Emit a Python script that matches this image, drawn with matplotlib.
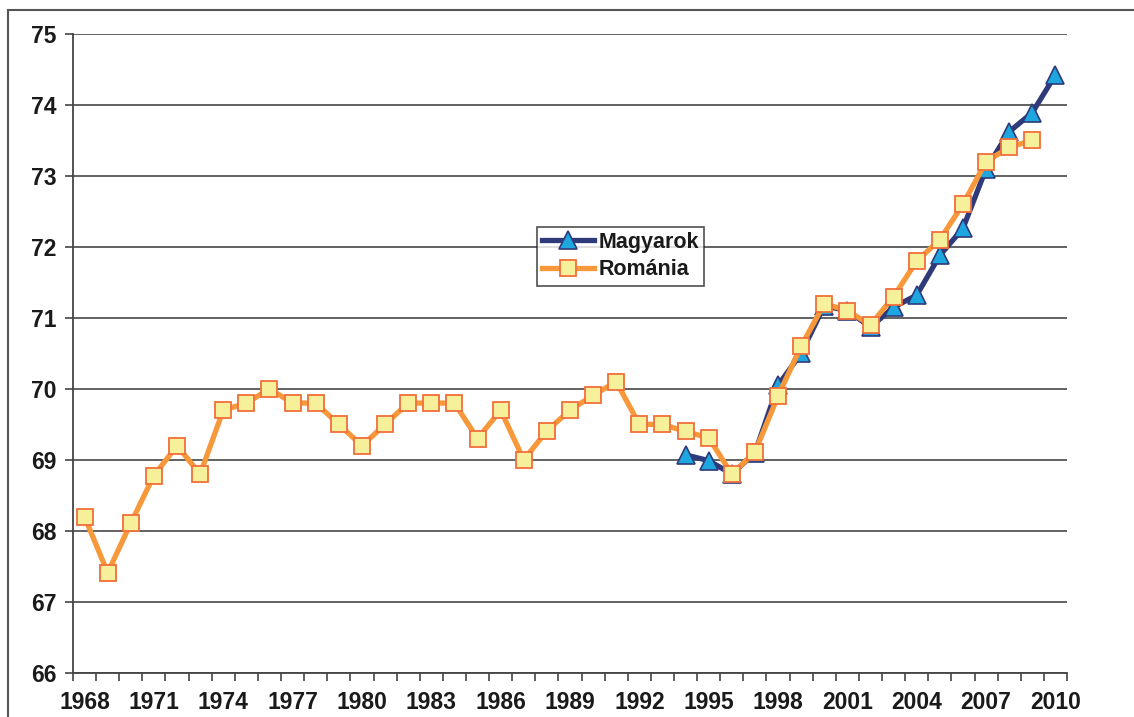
import numpy as np
import matplotlib
matplotlib.use("Agg")
import matplotlib.pyplot as plt
from matplotlib.patches import Rectangle

years = list(range(1968, 2011))

romania = [68.2, 67.41, 68.11, 68.78, 69.2, 68.8, 69.7, 69.8, 70.0, 69.8,
           69.8, 69.5, 69.2, 69.5, 69.8, 69.8, 69.8, 69.3, 69.7, 69.0,
           69.41, 69.7, 69.91, 70.1, 69.5, 69.5, 69.4, 69.31, 68.8, 69.11,
           69.9, 70.6, 71.2, 71.1, 70.9, 71.3, 71.8, 72.1, 72.6, 73.2,
           73.4, 73.5, np.nan]

magyar_years = list(range(1994, 2011))
magyarok = [69.07, 68.99, 68.8, 69.1, 70.05, 70.5, 71.17, 71.1, 70.87,
            71.15, 71.32, 71.88, 72.26, 73.1, 73.62, 73.89, 74.42]

tick_labels = [str(y) for y in years[::3]]

plt.rcParams['font.family'] = ['Liberation Sans', 'DejaVu Sans']
plt.rcParams['font.weight'] = 'bold'
plt.rcParams['text.color'] = '#1a1a1a'
plt.rcParams['xtick.labelcolor'] = '#1a1a1a'
plt.rcParams['ytick.labelcolor'] = '#1a1a1a'

fig = plt.figure(figsize=(11.34, 7.17), dpi=100)
ax = fig.add_axes([73 / 1134, 1 - 673 / 717, 994 / 1134, (673 - 33.7) / 717])

x_rom = np.arange(len(years))
x_mag = np.array([years.index(y) for y in magyar_years])

ax.plot(x_mag, magyarok, color='#2E3A7A', lw=3.8, marker='^', markersize=12.5,
        markerfacecolor='#1EA6DF', markeredgecolor='#2E3A7A', markeredgewidth=1.2,
        label='Magyarok', zorder=3)
ax.plot(x_rom, romania, color='#F7983A', lw=3.8, marker='s', markersize=11,
        markerfacecolor='#F6F09A', markeredgecolor='#F26E3A', markeredgewidth=1.3,
        label='Románia', zorder=4)

ax.set_xlim(-0.5, len(years) - 0.5)
ax.set_ylim(66, 75)
ax.set_yticks(range(66, 76))
ax.set_xticks(x_rom[::3])
ax.set_xticklabels(tick_labels)
ax.set_xticks(np.arange(-0.5, len(years), 1), minor=True)
ax.tick_params(axis='x', which='major', length=0, pad=13, labelsize=16.5)
ax.tick_params(axis='x', which='minor', length=6, width=1.2, color='#444444', direction='out')
ax.tick_params(axis='y', length=6, width=1.2, color='#444444', pad=6, labelsize=16.5)

ax.grid(axis='y', color='#555555', lw=1.3)
ax.set_axisbelow(True)
for s in ['top', 'right']:
    ax.spines[s].set_visible(False)
for s in ['left', 'bottom']:
    ax.spines[s].set_color('#444444')
    ax.spines[s].set_linewidth(1.3)

leg = ax.legend(loc='center', bbox_to_anchor=(0.551, 0.652), fontsize=15.5,
                frameon=True, fancybox=False, handlelength=2.4, handletextpad=0.2,
                borderpad=0.25, labelspacing=0.3, borderaxespad=0)
leg.get_frame().set_edgecolor('#222222')
leg.get_frame().set_linewidth(1.2)

fig.patches.append(Rectangle((8 / 1134, -0.1), 1.2, 1 - 10 / 717 + 0.1,
                             transform=fig.transFigure, fill=False,
                             edgecolor='#555555', lw=1.5))

fig.savefig('out.png', dpi=100)
